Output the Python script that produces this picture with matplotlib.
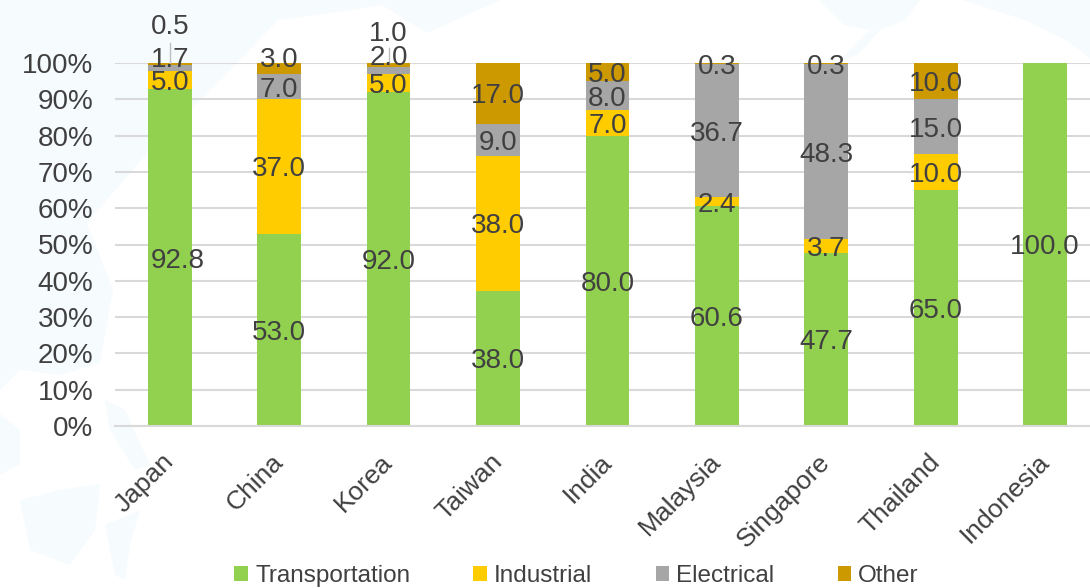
import matplotlib
matplotlib.use('Agg')
import matplotlib.pyplot as plt
from matplotlib.patches import Polygon
from matplotlib.transforms import ScaledTranslation
import numpy as np

plt.rcParams['font.family'] = ['Liberation Sans', 'DejaVu Sans']

countries = ['Japan', 'China', 'Korea', 'Taiwan', 'India', 'Malaysia', 'Singapore', 'Thailand', 'Indonesia']
transportation = [92.8, 53.0, 92.0, 38.0, 80.0, 60.6, 47.7, 65.0, 100.0]
industrial = [5.0, 37.0, 5.0, 38.0, 7.0, 2.4, 3.7, 10.0, 0]
electrical = [1.7, 7.0, 2.0, 9.0, 8.0, 36.7, 48.3, 15.0, 0]
other = [0.5, 3.0, 1.0, 17.0, 5.0, 0.3, 0.3, 10.0, 0]

series = [('Transportation', transportation, '#92D050'),
          ('Industrial', industrial, '#FFCC00'),
          ('Electrical', electrical, '#A6A6A6'),
          ('Other', other, '#CC9900')]

# labels the chart moved by hand, (series, country): pixels right, pixels up
moved = {('Transportation', 0): (8, -3), ('Other', 0): (0, 37), ('Electrical', 0): (0, 8),
         ('Other', 1): (0, 8), ('Other', 2): (0, 31), ('Electrical', 2): (0, 12)}
leaders = {('Other', 0): 5.5, ('Other', 2): 4}

# faint map behind the chart, rough outlines in pixels
map_shapes = [
    [(0, 0), (500, 0), (427, 33), (382, 5), (330, 13), (278, 20), (243, 57), (150, 150), (87, 223),
     (113, 290), (100, 363), (60, 375), (20, 370), (0, 390)],
    [(0, 414), (20, 430), (20, 464), (0, 475)],
    [(20, 500), (60, 490), (100, 484), (95, 530), (70, 565), (30, 550)],
    [(105, 400), (125, 410), (150, 465), (135, 470), (110, 430)],
    [(105, 525), (140, 510), (130, 545), (125, 580), (115, 575)],
    [(819, 0), (920, 0), (905, 20), (880, 30), (858, 55), (840, 60), (870, 30), (844, 25)],
    [(962, 0), (1090, 0), (1090, 58), (1066, 40), (1025, 20)],
]

W, H = 1090, 588
text_col = '#404040'
fig = plt.figure(figsize=(W / 100, H / 100), dpi=100)
for shape in map_shapes:
    fig.add_artist(Polygon([(px / W, 1 - py / H) for px, py in shape], closed=True,
                           transform=fig.transFigure, fc='#F6FBFE', ec='none', zorder=0))

ax = fig.add_axes([115 / W, 1 - 426 / H, (1090 - 115) / W, (426 - 63) / H])
ax.patch.set_alpha(0)
ax.set_axisbelow(True)
ax.grid(axis='y', color='#D9D9D9', lw=1.5)

x = np.arange(len(countries))
bottom = np.zeros(len(countries))
totals = np.array([sum(v) for v in zip(transportation, industrial, electrical, other)])
for name, vals, col in series:
    vals = np.array(vals, dtype=float)
    h = vals / totals * 100
    ax.bar(x, h, 0.4, bottom=bottom, color=col, label=name)
    for i, v in enumerate(vals):
        if v > 0:
            dx, dy = moved.get((name, i), (0, -3))
            ax.annotate(f'{v:.1f}', (x[i], bottom[i] + h[i] / 2), xytext=(dx * 0.72, dy * 0.72),
                        textcoords='offset points', ha='center', va='center',
                        fontsize=20, color=text_col, annotation_clip=False, zorder=5)
            if (name, i) in leaders:
                ax.plot([x[i], x[i]], [100, 100 + leaders[(name, i)]], color='#BFBFBF', lw=1,
                        clip_on=False, zorder=4)
    bottom += h

ax.set_xlim(-0.5, 8.41)
ax.set_ylim(0, 100)
ax.set_yticks(range(0, 101, 10))
ax.set_yticklabels([f'{t}%' for t in range(0, 101, 10)], fontsize=20, color=text_col)
ax.set_xticks(x)
ax.set_xticklabels(countries, rotation=45, ha='right', rotation_mode='anchor', fontsize=19, color=text_col)
ax.tick_params(length=0)
ax.tick_params(axis='y', pad=15.5)
ax.tick_params(axis='x', pad=17)
shift = ScaledTranslation(-8 / 100, 0, fig.dpi_scale_trans)
for lab in ax.get_xticklabels():
    lab.set_transform(lab.get_transform() + shift)
for s in ax.spines.values():
    s.set_visible(False)
ax.spines['bottom'].set_visible(True)
ax.spines['bottom'].set_color('#D9D9D9')
ax.spines['bottom'].set_linewidth(1.5)

fig.legend(loc='lower center', bbox_to_anchor=(0.529, -0.036), ncol=4, frameon=False, fontsize=17.5,
           labelcolor=text_col, handlelength=0.55, handleheight=0.55, columnspacing=2.6, handletextpad=0.3)

fig.savefig('out.png', dpi=100)
